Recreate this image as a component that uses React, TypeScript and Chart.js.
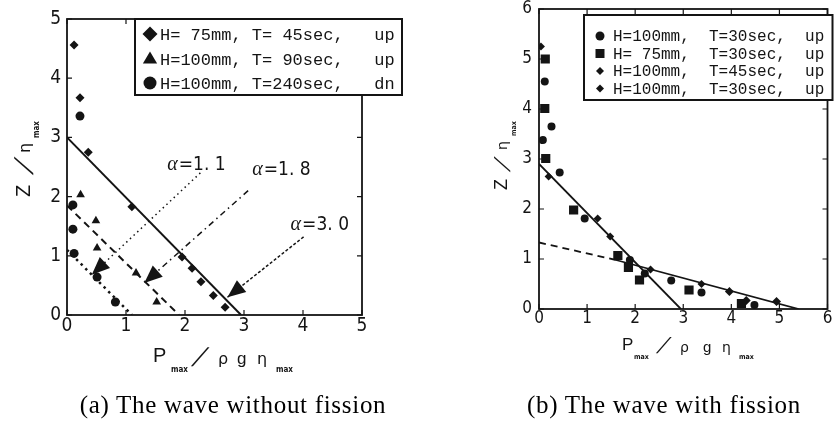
import React, { useEffect, useRef } from 'react';
import { Chart, registerables } from 'chart.js';

Chart.register(...registerables);

const INK = '#141414';
const NARROW = '"Liberation Sans Narrow", "Arial Narrow", "DejaVu Sans Condensed", sans-serif';
const SANS = '"Liberation Sans", Arial, sans-serif';
const GREEK = '"DejaVu Sans", sans-serif';
const MONO = '"Liberation Mono", "DejaVu Sans Mono", monospace';

// ================= (a) The wave without fission =================
const aXTicks = [0, 1, 2, 3, 4, 5];
const aYTicks = [0, 1, 2, 3, 4, 5];
const aLegendLabels = ['H= 75mm, T= 45sec,   up', 'H=100mm, T= 90sec,   up', 'H=100mm, T=240sec,   dn'];

const aDiamondX = [0.12, 0.22, 0.36, 1.1, 1.95, 2.12, 2.27, 2.48, 2.68];
const aDiamondY = [4.56, 3.67, 2.75, 1.83, 0.98, 0.79, 0.56, 0.33, 0.13];
const aTriangleX = [0.23, 0.49, 0.51, 1.17, 1.52];
const aTriangleY = [2.03, 1.59, 1.13, 0.71, 0.22];
const aCircleX = [0.22, 0.1, 0.1, 0.12, 0.51, 0.82];
const aCircleY = [3.36, 1.86, 1.45, 1.04, 0.64, 0.22];

const aFit30X = [0, 2.95];
const aFit30Y = [3.0, 0];
const aFit18X = [0, 1.9];
const aFit18Y = [1.85, 0];
const aFit11X = [0, 1.1];
const aFit11Y = [1.1, 0];

const aAlphaText = ['α=1. 1', 'α=1. 8', 'α=3. 0'];
const aAlphaTextX = [1.7, 3.14, 3.79];
const aAlphaTextY = [2.53, 2.45, 1.52];
const aLeaderFromX = [2.26, 3.07, 4.01];
const aLeaderFromY = [2.4, 2.1, 1.32];
const aLeaderToX = [0.42, 1.31, 2.72];
const aLeaderToY = [0.68, 0.54, 0.3];

// ================= (b) The wave with fission =================
const bXTicks = [0, 1, 2, 3, 4, 5, 6];
const bYTicks = [0, 1, 2, 3, 4, 5, 6];
const bLegendLabels = ['H=100mm,  T=30sec,  up', 'H= 75mm,  T=30sec,  up', 'H=100mm,  T=45sec,  up', 'H=100mm,  T=30sec,  up'];

const bCircleX = [0.12, 0.26, 0.08, 0.43, 0.95, 1.89, 2.2, 2.75, 3.38, 4.48];
const bCircleY = [4.55, 3.65, 3.38, 2.73, 1.81, 0.98, 0.71, 0.57, 0.33, 0.08];
const bSquareX = [0.13, 0.12, 0.14, 0.72, 1.64, 1.86, 2.09, 3.12, 4.21];
const bSquareY = [5.0, 4.01, 3.01, 1.98, 1.07, 0.83, 0.58, 0.38, 0.11];
const bSmallDiamondX = [0.04, 0.2, 1.22, 1.48, 2.32, 3.38];
const bSmallDiamondY = [5.25, 2.65, 1.81, 1.45, 0.79, 0.5];
const bDiamondX = [3.96, 4.31, 4.94];
const bDiamondY = [0.35, 0.17, 0.15];

const bFitSteepX = [0, 2.95];
const bFitSteepY = [2.9, 0];
const bFitShallowDashX = [0, 1.6];
const bFitShallowDashY = [1.33, 0.98];
const bFitShallowX = [1.6, 5.4];
const bFitShallowY = [0.98, 0];

// ================= helpers =================
function pts(xs: number[], ys: number[]) {
  return xs.map((x, i) => ({ x, y: ys[i] }));
}

function scatterSet(label: string, xs: number[], ys: number[], style: string, radius: number) {
  return {
    type: 'scatter',
    label,
    data: pts(xs, ys),
    pointStyle: style,
    pointRadius: radius,
    pointBackgroundColor: INK,
    pointBorderColor: INK,
    pointBorderWidth: 0,
    showLine: false,
  };
}

function lineSet(label: string, xs: number[], ys: number[], dash: number[], width: number) {
  return {
    type: 'line',
    label,
    data: pts(xs, ys),
    borderColor: INK,
    borderWidth: width,
    borderDash: dash,
    pointRadius: 0,
    fill: false,
    tension: 0,
  };
}

function drawMarker(ctx: CanvasRenderingContext2D, kind: string, x: number, y: number, r: number) {
  ctx.beginPath();
  if (kind === 'circle') {
    ctx.arc(x, y, r, 0, Math.PI * 2);
  } else if (kind === 'rect') {
    ctx.rect(x - r, y - r, 2 * r, 2 * r);
  } else if (kind === 'rectRot') {
    ctx.moveTo(x, y - r);
    ctx.lineTo(x + r, y);
    ctx.lineTo(x, y + r);
    ctx.lineTo(x - r, y);
    ctx.closePath();
  } else if (kind === 'triangle') {
    ctx.moveTo(x, y - r);
    ctx.lineTo(x + r * 0.95, y + r * 0.6);
    ctx.lineTo(x - r * 0.95, y + r * 0.6);
    ctx.closePath();
  }
  ctx.fill();
}

function drawFrame(chart: any, xTicks: number[], yTicks: number[]) {
  const { ctx, chartArea: a } = chart;
  const xs = chart.scales.x;
  const ys = chart.scales.y;
  ctx.save();
  ctx.strokeStyle = INK;
  ctx.lineWidth = 1.8;
  ctx.strokeRect(a.left, a.top, a.right - a.left, a.bottom - a.top);
  ctx.lineWidth = 1.2;
  ctx.beginPath();
  for (const v of xTicks) {
    const px = xs.getPixelForValue(v);
    ctx.moveTo(px, a.bottom);
    ctx.lineTo(px, a.bottom - 5);
    ctx.moveTo(px, a.top);
    ctx.lineTo(px, a.top + 5);
  }
  for (const v of yTicks) {
    const py = ys.getPixelForValue(v);
    ctx.moveTo(a.left, py);
    ctx.lineTo(a.left + 5, py);
    ctx.moveTo(a.right, py);
    ctx.lineTo(a.right - 5, py);
  }
  ctx.stroke();
  ctx.restore();
}

type Piece = { t: string; x: number; dy: number; f: string; skew?: number };

function drawPieces(ctx: CanvasRenderingContext2D, ox: number, oy: number, pieces: Piece[], rotate: boolean) {
  ctx.save();
  ctx.translate(ox, oy);
  if (rotate) ctx.rotate(-Math.PI / 2);
  ctx.fillStyle = INK;
  ctx.textBaseline = 'alphabetic';
  ctx.textAlign = 'left';
  for (const p of pieces) {
    ctx.save();
    ctx.translate(p.x, p.dy);
    if (p.skew) ctx.transform(1, 0, p.skew, 1, 0, 0);
    ctx.font = p.f;
    ctx.fillText(p.t, 0, 0);
    ctx.restore();
  }
  ctx.restore();
}

function drawLegend(
  ctx: CanvasRenderingContext2D,
  box: { l: number; t: number; r: number; b: number },
  labels: string[],
  kinds: string[],
  radii: number[],
  markerX: number,
  textX: number,
  rowsY: number[],
  font: string
) {
  ctx.save();
  ctx.fillStyle = '#fff';
  ctx.fillRect(box.l, box.t, box.r - box.l, box.b - box.t);
  ctx.strokeStyle = INK;
  ctx.lineWidth = 2;
  ctx.strokeRect(box.l, box.t, box.r - box.l, box.b - box.t);
  ctx.fillStyle = INK;
  ctx.font = font;
  ctx.textBaseline = 'middle';
  ctx.textAlign = 'left';
  labels.forEach((lab, i) => {
    drawMarker(ctx, kinds[i], markerX, rowsY[i], radii[i]);
    ctx.fillText(lab, textX, rowsY[i] + 1);
  });
  ctx.restore();
}

function fixedTicks(values: number[]) {
  return (s: any) => {
    s.ticks = values.map((v) => ({ value: v }));
  };
}

function fitX(h: number) {
  return (s: any) => {
    s.height = h;
    s.paddingLeft = 0;
    s.paddingRight = 0;
  };
}

function fitY(w: number) {
  return (s: any) => {
    s.width = w;
    s.paddingTop = 0;
    s.paddingBottom = 0;
  };
}

// ================= chart (a) =================
function configA(): any {
  const decor = {
    id: 'decorA',
    beforeDatasetsDraw(chart: any) {
      drawFrame(chart, aXTicks, aYTicks);
    },
    afterDatasetsDraw(chart: any) {
      const { ctx, chartArea: a } = chart;
      const xs = chart.scales.x;
      const ys = chart.scales.y;
      ctx.save();
      ctx.fillStyle = INK;
      aLeaderToX.forEach((tx: number, i: number) => {
        const x1 = xs.getPixelForValue(aLeaderFromX[i]);
        const y1 = ys.getPixelForValue(aLeaderFromY[i]);
        const x2 = xs.getPixelForValue(tx);
        const y2 = ys.getPixelForValue(aLeaderToY[i]);
        const ang = Math.atan2(y2 - y1, x2 - x1);
        const len = 18;
        const hw = 7.5;
        const bx = x2 - len * Math.cos(ang);
        const by = y2 - len * Math.sin(ang);
        ctx.beginPath();
        ctx.moveTo(x2, y2);
        ctx.lineTo(bx + hw * Math.sin(ang), by - hw * Math.cos(ang));
        ctx.lineTo(bx - hw * Math.sin(ang), by + hw * Math.cos(ang));
        ctx.closePath();
        ctx.fill();
      });
      aAlphaText.forEach((t: string, i: number) => {
        const px = xs.getPixelForValue(aAlphaTextX[i]);
        const py = ys.getPixelForValue(aAlphaTextY[i]);
        ctx.textBaseline = 'middle';
        ctx.textAlign = 'left';
        ctx.font = 'italic 20px "Liberation Serif", serif';
        ctx.fillText(t.slice(0, 1), px, py);
        const w = ctx.measureText(t.slice(0, 1)).width;
        ctx.font = '19px ' + NARROW;
        ctx.fillText(t.slice(1), px + w + 1, py);
      });
      ctx.restore();

      drawPieces(
        ctx,
        a.left + 86,
        a.bottom + 47,
        [
          { t: 'P', x: 0, dy: 0, f: '20px ' + SANS },
          { t: 'max', x: 18, dy: 10, f: 'bold 8px ' + NARROW },
          { t: '/', x: 38, dy: 4, f: '26px ' + SANS, skew: -0.6 },
          { t: 'ρ', x: 65, dy: 2, f: '16px ' + GREEK },
          { t: 'g', x: 84, dy: 2, f: '17px ' + SANS },
          { t: 'η', x: 104, dy: 2, f: '16px ' + GREEK },
          { t: 'max', x: 123, dy: 10, f: 'bold 8px ' + NARROW },
        ],
        false
      );
      drawPieces(
        ctx,
        a.left - 37,
        a.top + 178,
        [
          { t: 'Z', x: 0, dy: 0, f: '20px ' + SANS },
          { t: '/', x: 22, dy: 3, f: '26px ' + SANS, skew: -0.6 },
          { t: 'η', x: 44, dy: 0, f: '16px ' + GREEK },
          { t: 'max', x: 59, dy: 9, f: 'bold 8px ' + NARROW },
        ],
        true
      );

      drawLegend(
        ctx,
        { l: a.left + 68, t: a.top, r: a.right + 40, b: a.top + 76 },
        aLegendLabels,
        ['rectRot', 'triangle', 'circle'],
        [7.5, 7.5, 6.5],
        a.left + 83,
        a.left + 93,
        [a.top + 15, a.top + 40, a.top + 64],
        '17px ' + MONO
      );
    },
  };

  return {
    type: 'scatter',
    data: {
      datasets: [
        scatterSet(aLegendLabels[0], aDiamondX, aDiamondY, 'rectRot', 4.5),
        scatterSet(aLegendLabels[1], aTriangleX, aTriangleY, 'triangle', 5),
        scatterSet(aLegendLabels[2], aCircleX, aCircleY, 'circle', 4.5),
        lineSet('α=3.0 fit', aFit30X, aFit30Y, [], 2),
        lineSet('α=1.8 fit', aFit18X, aFit18Y, [7, 5], 2),
        lineSet('α=1.1 fit', aFit11X, aFit11Y, [2.5, 4], 2.5),
        lineSet('α=1.1 leader', [aLeaderFromX[0], aLeaderToX[0]], [aLeaderFromY[0], aLeaderToY[0]], [1.5, 3.5], 1.5),
        lineSet('α=1.8 leader', [aLeaderFromX[1], aLeaderToX[1]], [aLeaderFromY[1], aLeaderToY[1]], [6, 4, 1.5, 4], 1.5),
        lineSet('α=3.0 leader', [aLeaderFromX[2], aLeaderToX[2]], [aLeaderFromY[2], aLeaderToY[2]], [3, 2], 1.5),
      ],
    },
    options: {
      animation: false,
      responsive: false,
      events: [],
      layout: { padding: { left: 37, right: 55, top: 19, bottom: 80 } },
      plugins: { legend: { display: false }, tooltip: { enabled: false } },
      scales: {
        x: {
          type: 'linear',
          min: 0,
          max: 5,
          afterBuildTicks: fixedTicks(aXTicks),
          ticks: { font: { family: NARROW, size: 19, lineHeight: 1 }, color: INK, padding: 2, maxRotation: 0 },
          grid: { display: false, drawTicks: false },
          border: { display: false },
          afterFit: fitX(30),
        },
        y: {
          type: 'linear',
          min: 0,
          max: 5,
          afterBuildTicks: fixedTicks(aYTicks),
          ticks: { font: { family: NARROW, size: 19, lineHeight: 1 }, color: INK, padding: 6 },
          grid: { display: false, drawTicks: false },
          border: { display: false },
          afterFit: fitY(30),
        },
      },
    },
    plugins: [decor],
  };
}

// ================= chart (b) =================
function configB(): any {
  const decor = {
    id: 'decorB',
    beforeDatasetsDraw(chart: any) {
      drawFrame(chart, bXTicks, bYTicks);
    },
    afterDatasetsDraw(chart: any) {
      const { ctx, chartArea: a } = chart;
      drawPieces(
        ctx,
        a.left + 83,
        a.bottom + 41,
        [
          { t: 'P', x: 0, dy: 0, f: '17px ' + SANS },
          { t: 'max', x: 12, dy: 9, f: 'bold 7px ' + NARROW },
          { t: '/', x: 34, dy: 3, f: '22px ' + SANS, skew: -0.6 },
          { t: 'ρ', x: 58, dy: 2, f: '14px ' + GREEK },
          { t: 'g', x: 81, dy: 2, f: '15px ' + SANS },
          { t: 'η', x: 100, dy: 2, f: '14px ' + GREEK },
          { t: 'max', x: 117, dy: 9, f: 'bold 7px ' + NARROW },
        ],
        false
      );
      drawPieces(
        ctx,
        a.left - 32,
        a.top + 181,
        [
          { t: 'Z', x: 0, dy: 0, f: '18px ' + SANS },
          { t: '/', x: 18, dy: 3, f: '22px ' + SANS, skew: -0.6 },
          { t: 'η', x: 40, dy: 0, f: '14px ' + GREEK },
          { t: 'max', x: 54, dy: 9, f: 'bold 7px ' + NARROW },
        ],
        true
      );
      drawLegend(
        ctx,
        { l: a.left + 45, t: a.top + 6, r: a.right + 5, b: a.top + 91 },
        bLegendLabels,
        ['circle', 'rect', 'rectRot', 'rectRot'],
        [4.5, 4.5, 4, 4],
        a.left + 61,
        a.left + 74,
        [a.top + 27, a.top + 44.5, a.top + 62, a.top + 79.5],
        '16px ' + MONO
      );
    },
  };

  return {
    type: 'scatter',
    data: {
      datasets: [
        scatterSet(bLegendLabels[0], bCircleX, bCircleY, 'circle', 4),
        scatterSet(bLegendLabels[1], bSquareX, bSquareY, 'rect', 6.5),
        scatterSet(bLegendLabels[2], bSmallDiamondX, bSmallDiamondY, 'rectRot', 4),
        scatterSet(bLegendLabels[3], bDiamondX, bDiamondY, 'rectRot', 4.5),
        lineSet('steep fit', bFitSteepX, bFitSteepY, [], 1.8),
        lineSet('shallow fit (dashed)', bFitShallowDashX, bFitShallowDashY, [7, 5], 1.8),
        lineSet('shallow fit', bFitShallowX, bFitShallowY, [], 1.8),
      ],
    },
    options: {
      animation: false,
      responsive: false,
      events: [],
      layout: { padding: { left: 92, right: 6, top: 9, bottom: 86 } },
      plugins: { legend: { display: false }, tooltip: { enabled: false } },
      scales: {
        x: {
          type: 'linear',
          min: 0,
          max: 6,
          afterBuildTicks: fixedTicks(bXTicks),
          ticks: { font: { family: NARROW, size: 17, lineHeight: 1 }, color: INK, padding: 1, maxRotation: 0 },
          grid: { display: false, drawTicks: false },
          border: { display: false },
          afterFit: fitX(30),
        },
        y: {
          type: 'linear',
          min: 0,
          max: 6,
          afterBuildTicks: fixedTicks(bYTicks),
          ticks: { font: { family: NARROW, size: 17, lineHeight: 1 }, color: INK, padding: 7 },
          grid: { display: false, drawTicks: false },
          border: { display: false },
          afterFit: fitY(30),
        },
      },
    },
    plugins: [decor],
  };
}

export default function App() {
  const aRef = useRef<HTMLCanvasElement>(null);
  const bRef = useRef<HTMLCanvasElement>(null);

  useEffect(() => {
    const ca = new Chart(aRef.current as HTMLCanvasElement, configA());
    const cb = new Chart(bRef.current as HTMLCanvasElement, configB());
    return () => {
      ca.destroy();
      cb.destroy();
    };
  }, []);

  const caption: React.CSSProperties = {
    position: 'absolute',
    top: 391,
    width: 420,
    textAlign: 'center',
    fontFamily: '"Liberation Serif", "Times New Roman", serif',
    fontSize: 25,
    letterSpacing: '0.7px',
    lineHeight: '28px',
    color: '#000',
    whiteSpace: 'nowrap',
  };

  return (
    <div style={{ position: 'absolute', left: 0, top: 0, width: 834, height: 425, background: '#fff', overflow: 'hidden' }}>
      <canvas ref={aRef} width={417} height={425} style={{ position: 'absolute', left: 0, top: 0, width: 417, height: 425 }} />
      <canvas ref={bRef} width={417} height={425} style={{ position: 'absolute', left: 417, top: 0, width: 417, height: 425 }} />
      <div style={{ ...caption, left: 23 }}>(a) The wave without fission</div>
      <div style={{ ...caption, left: 454 }}>(b) The wave with fission</div>
    </div>
  );
}
